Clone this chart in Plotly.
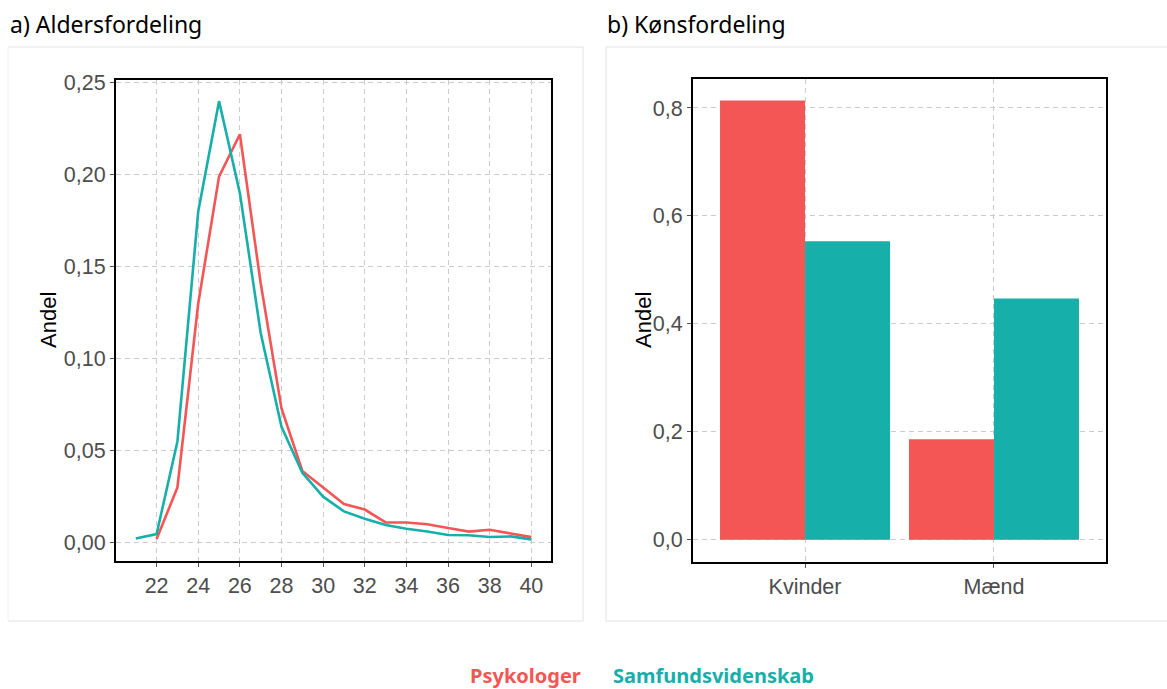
import plotly.graph_objects as go

ages = list(range(21, 41))
psyk_age = [None, 0.002, 0.030, 0.130, 0.199, 0.222, 0.141, 0.073, 0.039, 0.030,
            0.021, 0.018, 0.011, 0.011, 0.010, 0.008, 0.006, 0.007, 0.005, 0.003]
samf_age = [0.0023, 0.0047, 0.055, 0.180, 0.240, 0.190, 0.114, 0.063, 0.038, 0.025,
            0.017, 0.013, 0.0096, 0.0076, 0.0061, 0.0042, 0.004, 0.0031, 0.0034, 0.0018]
age_ticks = list(range(22, 41, 2))

genders = ["Kvinder", "Mænd"]
psyk_gender = [0.814, 0.186]
samf_gender = [0.553, 0.447]

RED = "#F45555"
TEAL = "#17AFA9"
W, H = 1167, 689

def px_x(p):
    return p / W

def px_y(p):
    return 1 - p / H

fig = go.Figure()

# panel a: lines
fig.add_trace(go.Scatter(x=ages, y=psyk_age, mode="lines", line=dict(color=RED, width=2.6),
                         name="Psykologer", xaxis="x", yaxis="y", connectgaps=False))
fig.add_trace(go.Scatter(x=ages, y=samf_age, mode="lines", line=dict(color=TEAL, width=2.6),
                         name="Samfundsvidenskab", xaxis="x", yaxis="y"))

# panel b: bars
fig.add_trace(go.Bar(x=genders, y=psyk_gender, marker=dict(color=RED, line=dict(width=0)),
                     name="Psykologer", xaxis="x2", yaxis="y2"))
fig.add_trace(go.Bar(x=genders, y=samf_gender, marker=dict(color=TEAL, line=dict(width=0)),
                     name="Samfundsvidenskab", xaxis="x2", yaxis="y2"))

tickfont = dict(family="Liberation Sans, Arial, sans-serif", size=21.5, color="#4d4d4d")
grid = dict(showgrid=True, gridcolor="#cccccc", gridwidth=1, griddash="5px,4px",
            zeroline=False, showline=True, linecolor="black", linewidth=2, mirror=True,
            ticks="outside", ticklen=4, tickwidth=1, tickcolor="#555555", tickfont=tickfont,
            automargin=False)

fig.update_layout(
    width=W, height=H,
    margin=dict(l=0, r=0, t=0, b=0, pad=0, autoexpand=False),
    paper_bgcolor="white", plot_bgcolor="white",
    separators=",.",
    showlegend=False,
    barmode="group", bargap=0.1, bargroupgap=0,
    xaxis=dict(domain=[px_x(116), px_x(550.7)], anchor="y", range=[20.05, 40.93],
               tickvals=age_ticks, **grid),
    yaxis=dict(domain=[px_y(560.7), px_y(80)], anchor="x", range=[-0.0098, 0.2515],
               tickvals=[0, 0.05, 0.10, 0.15, 0.20, 0.25], tickformat=".2f", **grid),
    xaxis2=dict(domain=[px_x(693), px_x(1106)], anchor="y2", range=[-0.593, 1.593],
                type="category", **grid),
    yaxis2=dict(domain=[px_y(561.7), px_y(79)], anchor="x2", range=[-0.0407, 0.8537],
                tickvals=[0, 0.2, 0.4, 0.6, 0.8], tickformat=".1f", **grid),
)

# card borders
card = dict(color="#e2e2e2", width=1)
shapes = [
    dict(type="line", xref="paper", yref="paper", x0=px_x(8), x1=px_x(583), y0=px_y(47), y1=px_y(47), line=card),
    dict(type="line", xref="paper", yref="paper", x0=px_x(8), x1=px_x(583), y0=px_y(621), y1=px_y(621), line=card),
    dict(type="line", xref="paper", yref="paper", x0=px_x(583), x1=px_x(583), y0=px_y(47), y1=px_y(621), line=card),
    dict(type="line", xref="paper", yref="paper", x0=px_x(8), x1=px_x(8), y0=px_y(47), y1=px_y(621), line=dict(color="#f0f0f0", width=1)),
    dict(type="line", xref="paper", yref="paper", x0=px_x(606), x1=px_x(1167), y0=px_y(47), y1=px_y(47), line=card),
    dict(type="line", xref="paper", yref="paper", x0=px_x(606), x1=px_x(1167), y0=px_y(621), y1=px_y(621), line=card),
    dict(type="line", xref="paper", yref="paper", x0=px_x(606), x1=px_x(606), y0=px_y(47), y1=px_y(621), line=card),
]
fig.update_layout(shapes=shapes)

title_font = dict(family="Noto Sans, Open Sans, sans-serif", size=23, color="black")
axis_title_font = dict(family="Liberation Sans, Arial, sans-serif", size=22, color="black")
ann = [
    dict(text="a) Aldersfordeling", x=px_x(8), y=px_y(24), xanchor="left", yanchor="middle", font=title_font),
    dict(text="b) Kønsfordeling", x=px_x(605), y=px_y(24), xanchor="left", yanchor="middle", font=title_font),
    dict(text="Andel", x=px_x(48), y=px_y(320), textangle=-90, xanchor="center", yanchor="middle",
         font=axis_title_font),
    dict(text="Andel", x=px_x(643), y=px_y(320), textangle=-90, xanchor="center", yanchor="middle",
         font=axis_title_font),
    dict(text="<b>Psykologer</b>", x=px_x(583), y=px_y(675), xanchor="right", yanchor="middle",
         font=dict(family="Noto Sans, Open Sans, sans-serif", size=20, color=RED)),
    dict(text="<b>Samfundsvidenskab</b>", x=px_x(611), y=px_y(675), xanchor="left", yanchor="middle",
         font=dict(family="Noto Sans, Open Sans, sans-serif", size=20, color=TEAL)),
]
for a in ann:
    a.update(xref="paper", yref="paper", showarrow=False)
fig.update_layout(annotations=ann)

fig.write_html("out.html", config={"displayModeBar": False},
               post_script="document.body.style.margin='0';document.body.style.overflow='hidden';")
